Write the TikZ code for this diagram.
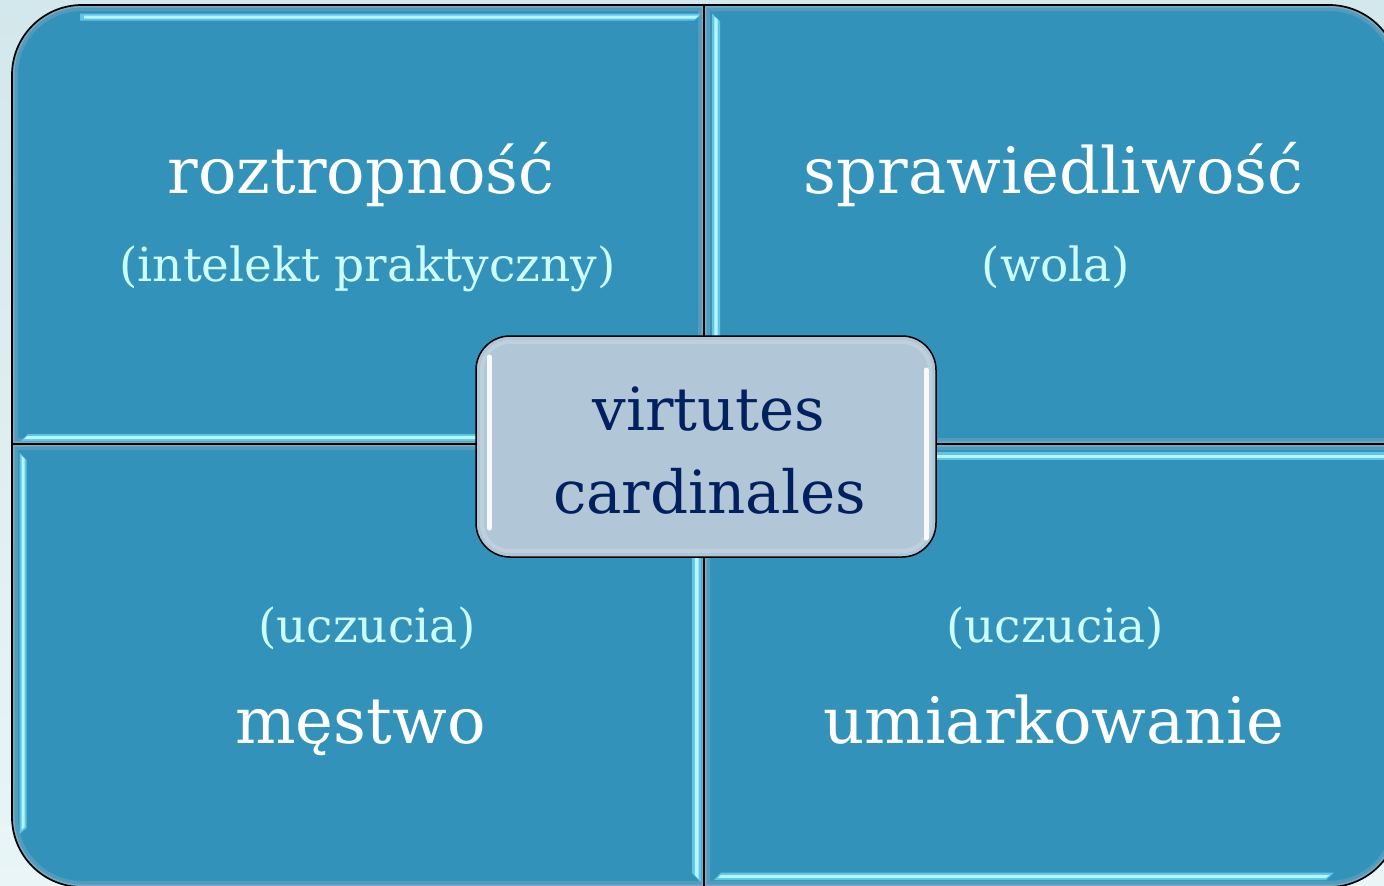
\documentclass[tikz,border=0pt]{standalone}
\usepackage{fontspec}
\setmainfont{DejaVu Serif}
\definecolor{bgtop}{RGB}{211,232,236}
\definecolor{bgbot}{RGB}{233,245,246}
\definecolor{quad}{RGB}{51,146,185}
\definecolor{quadedge}{RGB}{150,180,196}
\definecolor{hlout}{RGB}{100,196,230}
\definecolor{hlin}{RGB}{180,248,255}
\definecolor{cbox}{RGB}{177,198,214}
\definecolor{navy}{RGB}{0,32,96}
\definecolor{subtxt}{RGB}{205,252,255}
\def\pTL{(12,444) -- (12,75) arc[start angle=180,end angle=270,radius=70] -- (704,5) -- (704,444) -- cycle}
\def\pTR{(704,444) -- (704,5) -- (1329,5) arc[start angle=270,end angle=360,radius=70] -- (1399,444) -- cycle}
\def\pBL{(12,444) -- (704,444) -- (704,887) -- (82,887) arc[start angle=90,end angle=180,radius=70] -- cycle}
\def\pBR{(704,444) -- (1399,444) -- (1399,817) arc[start angle=0,end angle=90,radius=70] -- (704,887) -- cycle}
\newcommand\quadrant[1]{%
  \begin{scope}
    \clip #1;
    \fill[quad] #1;
    \draw[line width=12pt, quadedge!30!quad] #1;
    \draw[line width=5pt, quadedge!70!quad] #1;
  \end{scope}}
\begin{document}
\begin{tikzpicture}[x=1pt,y=-1pt,
  maintext/.style={font=\fontsize{64}{64}\selectfont, text=white, anchor=base, inner sep=0pt},
  subtext/.style={font=\fontsize{47}{47}\selectfont, text=subtxt, anchor=base, inner sep=0pt},
  centertext/.style={font=\fontsize{59.5}{59.5}\selectfont, text=navy, anchor=base, inner sep=0pt},
  hlo/.style={fill=hlout},
  hli/.style={fill=hlin},
  outline/.style={draw=black, line width=1.7pt},
  cboxstyle/.style={draw=black, line width=1.5pt, fill=cbox, rounded corners=34pt,
    minimum width=460pt, minimum height=221pt, inner sep=0pt}]
\useasboundingbox (0,0) rectangle (1384,886);
\shade[top color=bgtop, bottom color=bgbot] (0,0) rectangle (1384,886);
% quadrants
\quadrant{\pTL}
\quadrant{\pTR}
\quadrant{\pBL}
\quadrant{\pBR}
% highlights TL
\fill[hlo] (80,13.5) -- (701,13.5) -- (694,20.5) -- (80,20.5) -- cycle;
\fill[hli] (84,15.5) -- (699,15.5) -- (696,18.5) -- (84,18.5) -- cycle;
\fill[hlo] (28,434) -- (704,434) -- (704,441) -- (21,441) -- cycle;
\fill[hli] (27,436) -- (704,436) -- (704,439) -- (24,439) -- cycle;
% TR
\fill[hlo] (712,13.5) -- (712,444) -- (720,444) -- (720,21) -- cycle;
\fill[hli] (714.3,16.5) -- (714.3,444) -- (717.5,444) -- (717.5,19.5) -- cycle;
% BL
\fill[hlo] (19.5,452.5) -- (19.5,834) -- (26.5,828) -- (26.5,460) -- cycle;
\fill[hli] (21.5,455.5) -- (21.5,830) -- (24.5,827) -- (24.5,458.5) -- cycle;
\fill[hlo] (692,540) -- (692,873) -- (701,882) -- (701,540) -- cycle;
\fill[hli] (694.8,540) -- (694.8,875) -- (698.5,879) -- (698.5,540) -- cycle;
% BR
\fill[hlo] (704,452) rectangle (1399,460);
\fill[hli] (704,454.5) rectangle (1399,457.8);
\fill[hlo] (721,872.5) -- (1334,872.5) -- (1326,880) -- (714,880) -- cycle;
\fill[hli] (721,874.8) -- (1330,874.8) -- (1326,878) -- (718,878) -- cycle;
% outlines
\draw[outline] \pTL;
\draw[outline] \pTR;
\draw[outline] \pBL;
\draw[outline] \pBR;
% centre box
\node[cboxstyle] (centre) at (706,446.5) {};
\draw[white, opacity=0.18, line width=4pt, rounded corners=28pt] (482,342) rectangle (930,551);
\draw[white, opacity=0.9, line width=5pt, line cap=round] (489.5,357) -- (489.5,528);
\draw[white, opacity=0.9, line width=5pt, line cap=round] (926,370) -- (926,538);
\node[centertext] (virt) at (709,430) {virtutes};
\node[centertext] (card) at (709.5,513) {cardinales};
% texts
\node[maintext] (rozt) at (361,193) {roztropność};
\node[subtext] (intel) at (367.5,281) {(intelekt praktyczny)};
\node[maintext] (spraw) at (1053.5,193) {sprawiedliwość};
\node[subtext] (wola) at (1056,281) {(wola)};
\node[subtext] (uczL) at (367,642) {(uczucia)};
\node[maintext] (mest) at (360.5,743) {męstwo};
\node[subtext] (uczR) at (1055,642) {(uczucia)};
\node[maintext] (umiar) at (1054,743) {umiarkowanie};
\end{tikzpicture}
\end{document}
